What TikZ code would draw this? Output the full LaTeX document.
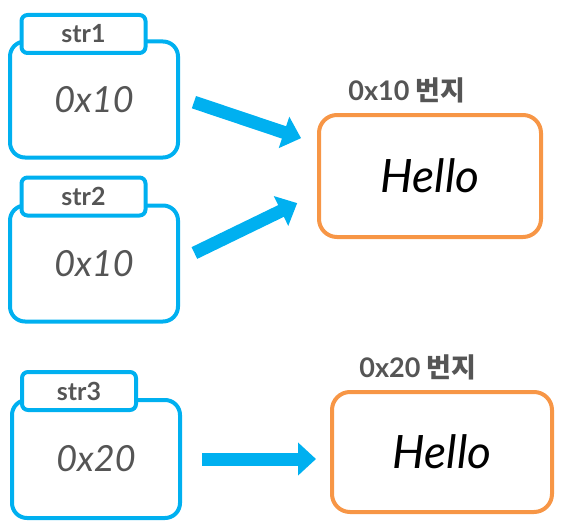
\documentclass[tikz,border=0pt]{standalone}
\usepackage{fontspec}
\setmainfont{Lato}
\newfontfamily\krfont{Noto Sans CJK KR}
\usetikzlibrary{arrows.meta,calc,positioning}
\definecolor{varblue}{RGB}{0,176,240}
\definecolor{memorange}{RGB}{247,150,70}
\definecolor{txtgray}{RGB}{85,85,85}

\begin{document}
\begin{tikzpicture}[x=1pt,y=-1pt,
  var/.style={rectangle,draw=varblue,line width=4pt,rounded corners=15pt,
              minimum width=168pt,minimum height=116pt,inner sep=0pt,
              font=\fontsize{36}{36}\selectfont\itshape,text=txtgray},
  tab/.style={rectangle,draw=varblue,fill=white,line width=4pt,rounded corners=6pt,
              minimum height=38pt,inner sep=0pt,
              font=\fontsize{25}{25}\selectfont\bfseries,text=txtgray},
  mem/.style={rectangle,draw=memorange,line width=4pt,rounded corners=18pt,
              minimum width=220pt,minimum height=120pt,inner sep=0pt,
              font=\fontsize{46}{46}\selectfont\itshape,text=black},
  addr/.style={font=\fontsize{27}{27}\selectfont\bfseries,text=txtgray},
  ptr/.style={-{Triangle[length=18pt,width=32pt]},line width=13pt,varblue}]

\useasboundingbox (0,0) rectangle (567,527);

% variables
\node[var] (box1) at (94,99.5) {0x10};
\node[tab,minimum width=124pt] (tab1) at (83.5,34) {str1};
\node[var] (box2) at (94,263.5) {0x10};
\node[tab,minimum width=124pt] (tab2) at (83.5,196.5) {str2};
\node[var,minimum height=118pt] (box3) at (96,459) {0x20};
\node[tab,minimum width=114pt] (tab3) at (79,391) {str3};

% memory
\node[mem,minimum width=222pt,minimum height=122pt] (hello1) at (430,176) {Hello};
\node[addr] (addr1) at (407,90) {0x10 {\krfont 번지}};
\node[mem] (hello2) at (442,452) {Hello};
\node[addr] (addr2) at (418,367) {0x20 {\krfont 번지}};

% references
\draw[ptr,shorten <=14.7pt,shorten >=16.8pt] ([yshift=2pt]box1.east) -- ([yshift=32.5pt]hello1.west);
\draw[ptr,shorten <=16pt,shorten >=22pt] ([yshift=3.5pt]box2.east) -- ([yshift=-17.5pt]hello1.west);
\draw[ptr,shorten <=20pt,shorten >=14pt] (box3.east) -- (box3.east -| hello2.west);
\end{tikzpicture}
\end{document}
